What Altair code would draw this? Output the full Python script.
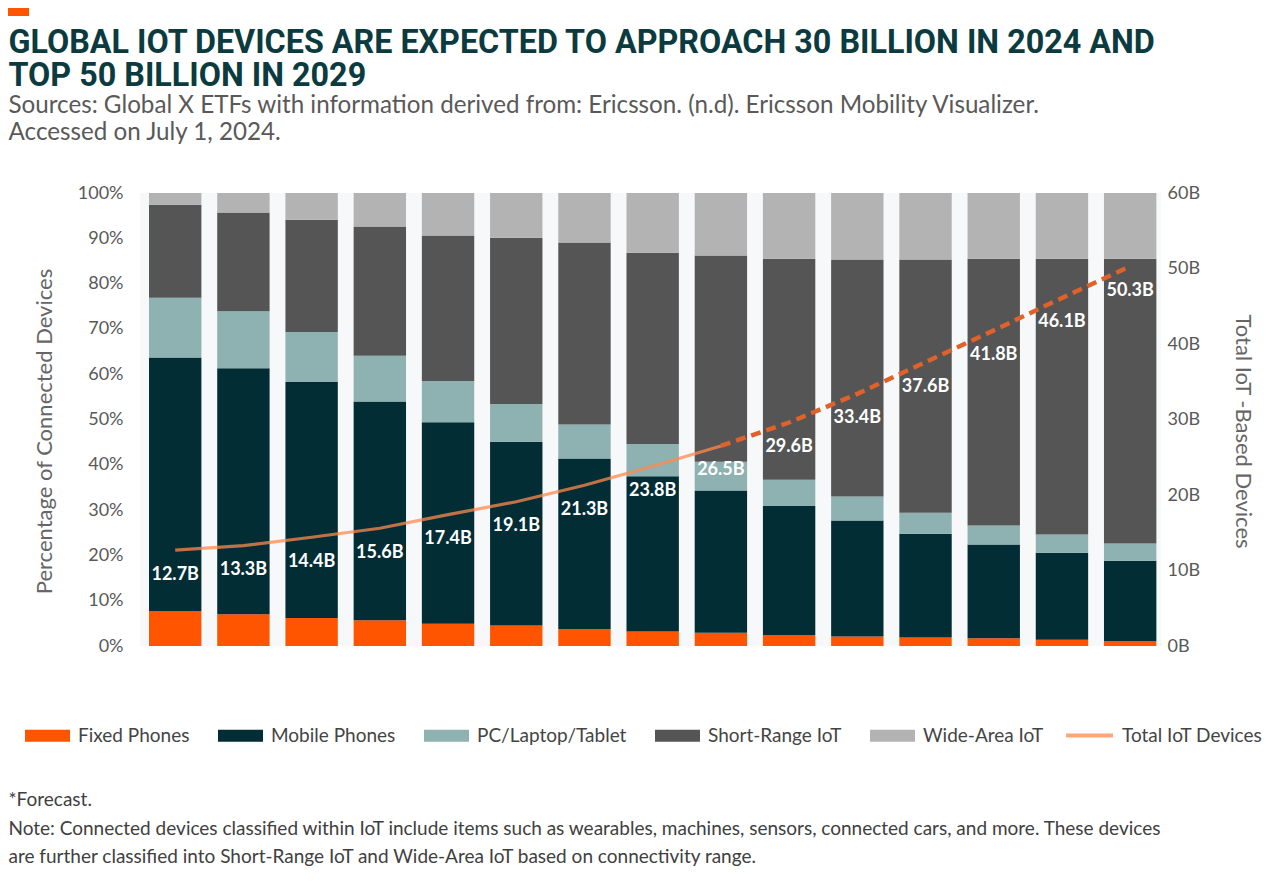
import altair as alt
import pandas as pd

# ---------------- data ----------------
years = ["2015", "2016", "2017", "2018", "2019", "2020", "2021", "2022", "2023",
         "2024*", "2025*", "2026*", "2027*", "2028*", "2029*"]
categories = ["Fixed Phones", "Mobile Phones", "PC/Laptop/Tablet", "Short-Range IoT", "Wide-Area IoT"]
cat_colors = ["#FF5500", "#032D35", "#8EB1B1", "#555555", "#B3B3B3"]

fixed_phones = [7.7, 7.0, 6.2, 5.7, 4.9, 4.5, 3.7, 3.2, 2.9, 2.4, 2.1, 1.9, 1.7, 1.4, 1.1]
mobile_phones = [56.0, 54.3, 52.1, 48.3, 44.5, 40.6, 37.7, 34.3, 31.4, 28.5, 25.6, 22.9, 20.7, 19.2, 17.7]
pc_laptop_tablet = [13.2, 12.6, 11.0, 10.1, 9.1, 8.3, 7.5, 7.1, 6.4, 5.8, 5.3, 4.6, 4.2, 4.0, 3.8]
short_range_iot = [20.5, 21.8, 24.8, 28.5, 32.1, 36.7, 40.2, 42.2, 45.5, 48.8, 52.3, 55.9, 58.9, 60.9, 62.9]
wide_area_iot = [2.6, 4.3, 5.9, 7.4, 9.4, 9.9, 10.9, 13.2, 13.8, 14.5, 14.7, 14.7, 14.5, 14.5, 14.5]

total_iot = [12.7, 13.3, 14.4, 15.6, 17.4, 19.1, 21.3, 23.8, 26.5, 29.6, 33.4, 37.6, 41.8, 46.1, 50.3]
total_labels = ["12.7B", "13.3B", "14.4B", "15.6B", "17.4B", "19.1B", "21.3B", "23.8B", "26.5B",
                "29.6B", "33.4B", "37.6B", "41.8B", "46.1B", "50.3B"]
line_series = ["Total IoT Devices"]

pct_ticks = [0, 10, 20, 30, 40, 50, 60, 70, 80, 90, 100]
bn_ticks = [0, 10, 20, 30, 40, 50, 60]

title_lines = ["GLOBAL IOT DEVICES ARE EXPECTED TO APPROACH 30 BILLION IN 2024 AND",
               "TOP 50 BILLION IN 2029"]
subtitle_lines = ["Sources: Global X ETFs with information derived from: Ericsson. (n.d). Ericsson Mobility Visualizer.",
                  "Accessed on July 1, 2024."]
note_lines = ["*Forecast.",
              "Note: Connected devices classified within IoT include items such as wearables, machines, sensors, connected cars, and more. These devices",
              "are further classified into Short-Range IoT and Wide-Area IoT based on connectivity range."]

# ---------------- tables ----------------
series_vals = [fixed_phones, mobile_phones, pc_laptop_tablet, short_range_iot, wide_area_iot]
rows = []
for i, yr in enumerate(years):
    for k, cat in enumerate(categories):
        rows.append({"year": yr, "category": cat, "share": series_vals[k][i], "order": k})
bars_df = pd.DataFrame(rows)

line_df = pd.DataFrame({"year": years, "total": total_iot, "label": total_labels,
                        "series": line_series[0]})
solid_df = line_df.iloc[:9]
dashed_df = line_df.iloc[8:]

FONT = "Lato"
W, H = 1021, 453
PL, PT = 132, 185

xscale = alt.Scale(domain=years, paddingInner=0.232, paddingOuter=0.1, align=0.66)
yl_scale = alt.Scale(domain=[0, 100], nice=False)
yr_scale = alt.Scale(domain=[0, 60], nice=False)

bars = alt.Chart(bars_df).mark_bar().encode(
    x=alt.X("year:N", sort=None, scale=xscale,
            axis=alt.Axis(title=None, labelAngle=0, labelFont=FONT, labelFontSize=17,
                          labelColor="#595959", domainColor="#D9D9D9", domainWidth=1.5,
                          ticks=False, labelPadding=11, grid=False)),
    y=alt.Y("share:Q", stack="zero", scale=yl_scale,
            axis=alt.Axis(values=pct_ticks, labelExpr="datum.value + '%'", domain=False,
                          ticks=False, grid=False, labelPadding=17, labelFont=FONT,
                          labelFontSize=18, labelColor="#595959",
                          title="Percentage of Connected Devices", titleFont=FONT,
                          titleFontSize=22, titleFontWeight="normal", titleColor="#666666",
                          titleX=-96, titleY=238, titleAngle=270, titleBaseline="middle",
                          titleAlign="center")),
    color=alt.Color("category:N", scale=alt.Scale(domain=categories, range=cat_colors),
                    legend=alt.Legend(orient="none", legendX=-115, legendY=520,
                                      direction="horizontal", title=None,
                                      symbolType="M-1,-0.27H1V0.27H-1Z", symbolSize=2025,
                                      symbolStrokeWidth=0, symbolOpacity=1,
                                      labelFont=FONT, labelFontSize=19, labelColor="#444444",
                                      labelOffset=8, columnPadding=28)),
    order=alt.Order("order:Q", sort="ascending"),
)

solid = alt.Chart(solid_df).mark_line(strokeWidth=3.2, opacity=0.75).encode(
    x=alt.X("year:N", sort=None, scale=xscale, axis=None),
    y=alt.Y("total:Q", scale=yr_scale,
            axis=alt.Axis(orient="right", values=bn_ticks, labelExpr="datum.value + 'B'",
                          domain=False, ticks=False, grid=False, labelPadding=6,
                          labelFont=FONT, labelFontSize=18, labelColor="#595959",
                          title="Total IoT -Based Devices", titleFont=FONT, titleFontSize=22,
                          titleFontWeight="normal", titleColor="#666666",
                          titleX=81, titleY=238, titleAngle=90, titleBaseline="middle",
                          titleAlign="center")),
    stroke=alt.Stroke("series:N", scale=alt.Scale(domain=line_series, range=["#FF8A4C"]),
                      legend=alt.Legend(orient="none", legendX=924, legendY=517,
                                        direction="horizontal", title=None,
                                        symbolType="stroke", symbolSize=2200,
                                        symbolStrokeWidth=4, labelFont=FONT, labelFontSize=19,
                                        labelColor="#444444", labelOffset=7)),
)

dashed = alt.Chart(dashed_df).mark_line(strokeWidth=4.5, strokeDash=[10, 6], color="#E0622A").encode(
    x=alt.X("year:N", sort=None, scale=xscale, axis=None),
    y=alt.Y("total:Q", scale=yr_scale, axis=None),
)

labels = alt.Chart(line_df).mark_text(font=FONT, fontSize=18, fontWeight="bold", color="white",
                                      dy=24.5, baseline="middle", align="center").encode(
    x=alt.X("year:N", sort=None, scale=xscale, axis=None),
    y=alt.Y("total:Q", scale=yr_scale, axis=None),
    text="label:N",
)

one = pd.DataFrame({"t": [0]})


def text_block(lines, px, py, size, color, line_h, weight="normal", font=FONT):
    return alt.Chart(one).mark_text(align="left", baseline="alphabetic", font=font,
                                    fontSize=size, fontWeight=weight, color=color,
                                    lineHeight=line_h).encode(
        x=alt.value(px - 8 - PL), y=alt.value(py - 8 - PT), text=alt.value(lines))


accent = alt.Chart(one).mark_rect(color="#FF5500").encode(
    x=alt.value(8 - 8 - PL), x2=alt.value(29 - 8 - PL),
    y=alt.value(8 - 8 - PT), y2=alt.value(16 - 8 - PT))

title = text_block(title_lines, 8.5, 53, 32.3, "#0B3A3F", 33, weight="bold", font="Roboto")
subtitle = text_block(subtitle_lines, 8.5, 113, 24.2, "#595959", 27)
notes = text_block(note_lines, 8.5, 806, 19, "#404040", 28.5)

chart = alt.layer(bars, solid, dashed, labels, accent, title, subtitle, notes).resolve_scale(
    y="independent"
).properties(
    width=W, height=H,
    autosize=alt.AutoSizeParams(type="none"),
    padding={"left": PL, "top": PT, "right": 1264 - PL - W, "bottom": 868 - PT - H},
    background="white",
).configure_view(fill="#F6F8FA", stroke=None)

chart.save("out.html", embed_options={"renderer": "svg", "actions": False})
